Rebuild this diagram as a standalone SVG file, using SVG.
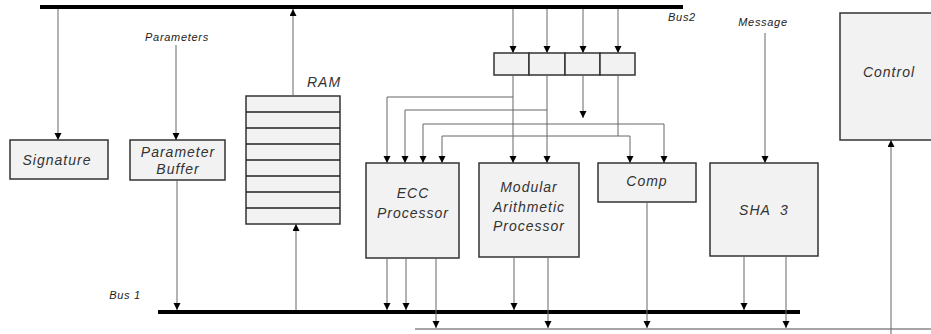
<svg xmlns="http://www.w3.org/2000/svg" width="931" height="334" viewBox="0 0 931 334">
<style>
.box{fill:#f2f2f2;stroke:#333;stroke-width:1.5}
.bus{stroke:#000;stroke-width:4}
.c{fill:none;stroke:#666;stroke-width:1;marker-end:url(#ah)}
.w{fill:none;stroke:#666;stroke-width:1}
.t{font-family:"Liberation Sans",Arial,sans-serif;font-style:italic;font-size:14px;letter-spacing:1px;fill:#333;text-anchor:middle}
.s{font-family:"Liberation Sans",Arial,sans-serif;font-style:italic;font-size:11px;letter-spacing:0.7px;fill:#222;text-anchor:middle}
.row{stroke:#222;stroke-width:1.5}
</style>
<defs>
<marker id="ah" markerUnits="userSpaceOnUse" markerWidth="8" markerHeight="8" refX="7" refY="3.5" orient="auto">
<path d="M0,0 L7,3.5 L0,7 z" fill="#000"/>
</marker>
</defs>
<g id="buses">
<line class="bus" x1="40" y1="7" x2="683" y2="7"/>
<line class="bus" x1="158" y1="312" x2="800" y2="312"/>
<line x1="415" y1="329" x2="931" y2="329" stroke="#888" stroke-width="1.5"/>
<text class="s" x="682" y="21">Bus2</text>
<text class="s" x="125" y="299">Bus 1</text>
<text class="s" x="177" y="41">Parameters</text>
<text class="s" x="763" y="26">Message</text>
</g>
<g id="signature">
<rect class="box" x="10" y="140" width="98" height="39"/>
<text class="t" x="57" y="165">Signature</text>
</g>
<g id="parameter-buffer">
<rect class="box" x="130" y="140" width="95" height="40"/>
<text class="t" x="178" y="157">Parameter</text>
<text class="t" x="178" y="174">Buffer</text>
</g>
<g id="ram">
<rect class="box" x="246" y="96" width="94" height="128"/>
<line class="row" x1="246" y1="112" x2="340" y2="112"/>
<line class="row" x1="246" y1="128" x2="340" y2="128"/>
<line class="row" x1="246" y1="144" x2="340" y2="144"/>
<line class="row" x1="246" y1="160" x2="340" y2="160"/>
<line class="row" x1="246" y1="176" x2="340" y2="176"/>
<line class="row" x1="246" y1="192" x2="340" y2="192"/>
<line class="row" x1="246" y1="208" x2="340" y2="208"/>
<text class="t" x="324" y="87">RAM</text>
</g>
<g id="registers">
<rect class="box" x="494" y="53" width="35" height="22"/>
<rect class="box" x="529" y="53" width="36" height="22"/>
<rect class="box" x="565" y="53" width="35" height="22"/>
<rect class="box" x="600" y="53" width="35" height="22"/>
</g>
<g id="ecc">
<rect class="box" x="366" y="163" width="93" height="95"/>
<text class="t" x="413" y="198">ECC</text>
<text class="t" x="413" y="218">Processor</text>
</g>
<g id="modular">
<rect class="box" x="479" y="163" width="100" height="94"/>
<text class="t" x="529" y="192">Modular</text>
<text class="t" x="529" y="212">Arithmetic</text>
<text class="t" x="529" y="231">Processor</text>
</g>
<g id="comp">
<rect class="box" x="598" y="163" width="98" height="39"/>
<text class="t" x="647" y="186">Comp</text>
</g>
<g id="sha3">
<rect class="box" x="710" y="163" width="108" height="93"/>
<text class="t" x="764" y="215" xml:space="preserve">SHA  3</text>
</g>
<g id="control">
<rect class="box" x="840" y="13" width="92" height="127"/>
<text class="t" x="889" y="77">Control</text>
</g>
<g id="connectors">
<path class="c" d="M58,9 V140"/>
<path class="c" d="M176,45 V140"/>
<path class="c" d="M177,180 V310"/>
<path class="c" d="M293,96 V9"/>
<path class="c" d="M296,310 V224"/>
<path class="c" d="M513,9 V53"/>
<path class="c" d="M547,9 V53"/>
<path class="c" d="M583,9 V53"/>
<path class="c" d="M618,9 V53"/>
<path class="c" d="M513,75 V163"/>
<path class="c" d="M513,97 H387 V163"/>
<path class="c" d="M547,75 V163"/>
<path class="c" d="M547,110 H405 V163"/>
<path class="c" d="M583,75 V118"/>
<path class="c" d="M423,124 H664 V163"/>
<path class="c" d="M423,124 V163"/>
<path class="w" d="M618,75 V136"/>
<path class="c" d="M442,136 H630 V163"/>
<path class="c" d="M442,136 V163"/>
<path class="c" d="M765,33 V163"/>
<path class="c" d="M387,258 V310"/>
<path class="c" d="M406,258 V310"/>
<path class="c" d="M436,258 V328"/>
<path class="c" d="M514,257 V310"/>
<path class="c" d="M548,257 V328"/>
<path class="c" d="M647,202 V328"/>
<path class="c" d="M744,256 V310"/>
<path class="c" d="M786,256 V328"/>
<path class="c" d="M891,334 V140"/>
</g>
</svg>
